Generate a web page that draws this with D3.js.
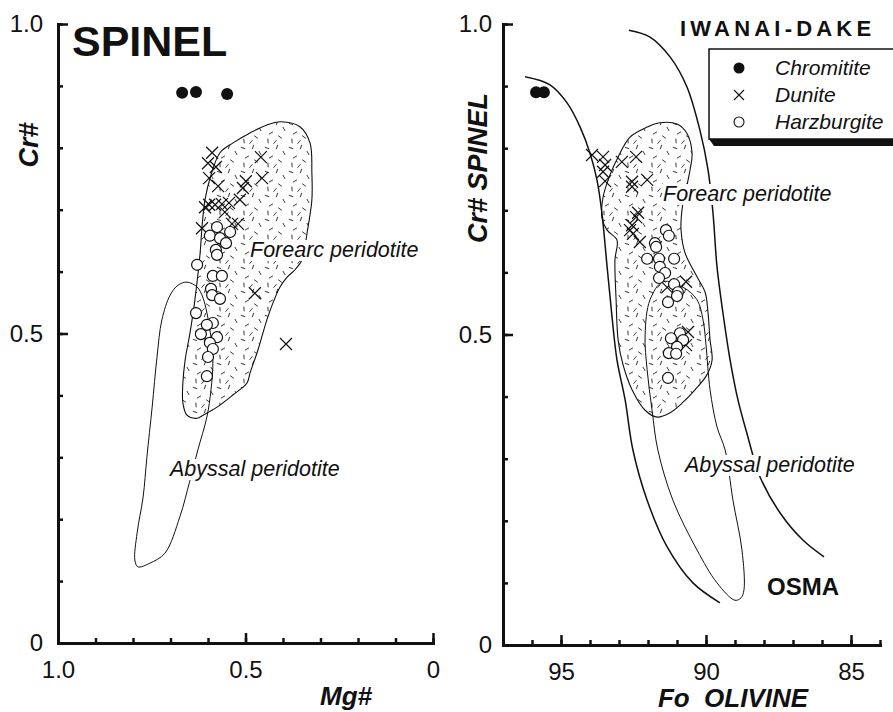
<!DOCTYPE html>
<html>
<head>
<meta charset="utf-8">
<script src="https://cdnjs.cloudflare.com/ajax/libs/d3/7.8.5/d3.min.js"></script>
<style>
  body { margin: 0; background: #fff; }
  svg { display: block; font-family: "Liberation Sans", Arial, Helvetica, sans-serif; }
  .ax path, .ax line { stroke: #111; }
  .ax text { fill: #111; }
</style>
</head>
<body>
<script>
// ---- left panel: Cr# vs Mg# of spinel ----
const chromL = [[0.669, 0.889], [0.632, 0.890], [0.549, 0.887]];
const duniteL = [[0.589, 0.792], [0.600, 0.775], [0.579, 0.769], [0.597, 0.751], [0.573, 0.738],
  [0.459, 0.785], [0.456, 0.751], [0.499, 0.746], [0.507, 0.735], [0.515, 0.716],
  [0.597, 0.708], [0.581, 0.708], [0.563, 0.709], [0.544, 0.711], [0.555, 0.696],
  [0.616, 0.670], [0.536, 0.677], [0.520, 0.677], [0.475, 0.565], [0.392, 0.483], [0.608, 0.704]];
const harzL = [[0.576, 0.672], [0.595, 0.658], [0.541, 0.664], [0.568, 0.654], [0.552, 0.646],
  [0.579, 0.635], [0.576, 0.627], [0.629, 0.611], [0.587, 0.593], [0.563, 0.593],
  [0.592, 0.572], [0.589, 0.562], [0.568, 0.556], [0.632, 0.533], [0.587, 0.517],
  [0.603, 0.514], [0.619, 0.499], [0.576, 0.494], [0.595, 0.485], [0.587, 0.475],
  [0.600, 0.462], [0.603, 0.431]];
const forearcL = [[0.405, 0.842], [0.355, 0.834], [0.328, 0.808], [0.323, 0.759], [0.323, 0.716],
  [0.336, 0.662], [0.349, 0.619], [0.368, 0.603], [0.389, 0.591], [0.408, 0.575],
  [0.427, 0.549], [0.443, 0.522], [0.467, 0.473], [0.488, 0.436], [0.496, 0.420],
  [0.533, 0.401], [0.576, 0.381], [0.613, 0.368], [0.629, 0.363], [0.656, 0.368],
  [0.667, 0.388], [0.667, 0.420], [0.661, 0.457], [0.648, 0.501], [0.635, 0.554],
  [0.621, 0.630], [0.616, 0.672], [0.608, 0.716], [0.592, 0.756], [0.568, 0.792],
  [0.533, 0.808], [0.488, 0.824], [0.443, 0.837]];
const abyssalL = [[0.656, 0.583], [0.629, 0.575], [0.613, 0.557], [0.595, 0.506], [0.587, 0.457],
  [0.592, 0.409], [0.603, 0.365], [0.627, 0.312], [0.648, 0.263], [0.675, 0.204],
  [0.715, 0.145], [0.755, 0.129], [0.787, 0.123], [0.795, 0.134], [0.789, 0.178],
  [0.773, 0.236], [0.763, 0.300], [0.749, 0.381], [0.736, 0.462], [0.723, 0.522],
  [0.701, 0.562], [0.680, 0.578]];

// ---- right panel: Cr# spinel vs Fo olivine ----
const chromR = [[95.86, 0.890], [95.59, 0.890]];
const duniteR = [[93.93, 0.789], [93.55, 0.786], [93.48, 0.773], [93.55, 0.762], [93.48, 0.747],
  [92.90, 0.778], [92.41, 0.786], [92.55, 0.746], [92.55, 0.738], [92.03, 0.749],
  [92.34, 0.696], [92.41, 0.689], [92.55, 0.676], [92.62, 0.668], [92.52, 0.662],
  [92.28, 0.649], [91.34, 0.576], [90.69, 0.585], [90.62, 0.504], [90.69, 0.483]];
const harzR = [[91.38, 0.668], [91.28, 0.659], [91.76, 0.647], [91.72, 0.641], [92.03, 0.622],
  [91.62, 0.622], [91.10, 0.622], [91.59, 0.609], [91.41, 0.599], [91.62, 0.591],
  [91.10, 0.581], [90.97, 0.568], [91.00, 0.562], [91.31, 0.552], [90.90, 0.502],
  [91.21, 0.494], [90.79, 0.491], [91.00, 0.480], [91.28, 0.470], [91.03, 0.469], [91.31, 0.430]];
const forearcR = [[92.03, 0.834], [91.59, 0.841], [91.00, 0.839], [90.66, 0.824], [90.48, 0.792],
  [90.55, 0.765], [90.69, 0.733], [90.83, 0.700], [90.86, 0.668], [90.72, 0.631],
  [90.31, 0.593], [90.03, 0.568], [89.93, 0.535], [89.86, 0.491], [89.79, 0.459],
  [89.97, 0.435], [90.38, 0.411], [90.79, 0.391], [91.24, 0.374], [91.69, 0.367],
  [92.10, 0.378], [92.55, 0.411], [92.86, 0.451], [93.03, 0.491], [93.10, 0.556],
  [93.14, 0.620], [93.07, 0.652], [93.41, 0.668], [93.59, 0.689], [93.55, 0.721],
  [93.31, 0.757], [93.03, 0.786], [92.62, 0.818]];
const abyssalR = [[91.48, 0.585], [90.79, 0.576], [90.31, 0.556], [90.10, 0.523], [90.00, 0.483],
  [89.86, 0.411], [89.62, 0.351], [89.34, 0.314], [89.07, 0.233], [88.76, 0.153],
  [88.69, 0.089], [88.79, 0.076], [89.00, 0.072], [89.62, 0.100], [90.31, 0.153],
  [91.14, 0.233], [91.66, 0.314], [91.86, 0.378], [92.03, 0.443], [92.10, 0.499], [91.93, 0.556]];
const osmaLow = [[96.24, 0.915], [95.38, 0.902], [94.79, 0.873], [94.34, 0.834], [94.00, 0.792],
  [93.76, 0.749], [93.59, 0.696], [93.41, 0.609], [93.24, 0.528], [93.07, 0.459],
  [92.79, 0.395], [92.52, 0.314], [92.03, 0.233], [91.34, 0.158], [90.45, 0.100], [89.52, 0.068]];
const osmaHigh = [[92.66, 0.990], [91.93, 0.979], [91.24, 0.947], [90.66, 0.899], [90.21, 0.829],
  [89.93, 0.765], [89.76, 0.696], [89.62, 0.609], [89.38, 0.523], [89.17, 0.459],
  [88.90, 0.395], [88.59, 0.341], [88.14, 0.271], [87.45, 0.213], [86.66, 0.169], [85.93, 0.142]];

const crTicks = [0, 0.5, 1];
const crMinor = d3.range(0, 1.01, 0.1);
const mgTicks = [1, 0.5, 0];
const mgMinor = d3.range(0, 1.01, 0.1);
const foTicks = [95, 90, 85];
const foMinor = d3.range(84, 97.5, 1);
const legendItems = ["Chromitite", "Dunite", "Harzburgite"];

const W = 893, H = 712;
const svg = d3.select("body").append("svg").attr("width", W).attr("height", H);
svg.append("rect").attr("width", W).attr("height", H).attr("fill", "#fff");

// stipple texture for forearc fields
const defs = svg.append("defs");
const pat = defs.append("pattern").attr("id", "stip")
  .attr("patternUnits", "userSpaceOnUse").attr("width", 24).attr("height", 24);
[[3, 4, 20], [13, 3, 110], [20, 9, 60], [7, 13, 150], [16, 17, 35], [4, 21, 85], [11, 22, 130]]
  .forEach(([x, y, a]) => {
    const r = a * Math.PI / 180, l = 2.3;
    pat.append("line")
      .attr("x1", x - l * Math.cos(r)).attr("y1", y - l * Math.sin(r))
      .attr("x2", x + l * Math.cos(r)).attr("y2", y + l * Math.sin(r))
      .attr("stroke", "#222").attr("stroke-width", 0.9);
  });

const xL = d3.scaleLinear().domain([1, 0]).range([58, 433]);
const yL = d3.scaleLinear().domain([0, 1]).range([643, 24]);
const xR = d3.scaleLinear().domain([97, 84]).range([503, 880]);
const yR = d3.scaleLinear().domain([0, 1]).range([645, 24]);

const fmtFrac = d => d === 0 ? "0" : d3.format(".1f")(d);
const fmtInt = d => String(d);

function axes(x, y, xMaj, xMin, xFmt, yPad) {
  const x0 = x.range()[0], y0 = y.range()[0];
  const style = g => {
    g.attr("font-size", 24).attr("font-family", null);
    g.select(".domain").attr("stroke-width", 3).attr("stroke-linecap", "square");
    g.selectAll("line").attr("stroke-width", 2.5);
  };
  svg.append("g").attr("class", "ax").attr("transform", `translate(${x0},0)`)
    .call(d3.axisLeft(y).tickValues(crMinor).tickSize(-5).tickSizeOuter(0).tickFormat(""))
    .call(g => g.select(".domain").remove())
    .selectAll("line").attr("stroke-width", 2.5);
  svg.append("g").attr("class", "ax").attr("transform", `translate(${x0},0)`)
    .call(d3.axisLeft(y).tickValues(crTicks).tickSize(-10).tickSizeOuter(0).tickPadding(yPad).tickFormat(fmtFrac))
    .call(style);
  svg.append("g").attr("class", "ax").attr("transform", `translate(0,${y0})`)
    .call(d3.axisBottom(x).tickValues(xMin).tickSize(-5).tickSizeOuter(0).tickFormat(""))
    .call(g => g.select(".domain").remove())
    .selectAll("line").attr("stroke-width", 2.5);
  svg.append("g").attr("class", "ax").attr("transform", `translate(0,${y0})`)
    .call(d3.axisBottom(x).tickValues(xMaj).tickSize(-10).tickSizeOuter(0).tickPadding(18).tickFormat(xFmt))
    .call(style);
}

function panel(x, y, forearc, abyssal) {
  const lineC = d3.line().x(d => x(d[0])).y(d => y(d[1])).curve(d3.curveCatmullRomClosed.alpha(0.5));
  svg.append("path").attr("d", lineC(forearc)).attr("fill", "url(#stip)").attr("stroke", "none");
  svg.append("path").attr("d", lineC(abyssal)).attr("fill", "none").attr("stroke", "#111").attr("stroke-width", 1);
  svg.append("path").attr("d", lineC(forearc)).attr("fill", "none").attr("stroke", "#111").attr("stroke-width", 1.1);
}

function label(txt, px, py, opts = {}) {
  const g = svg.append("g");
  const t = g.append("text").attr("x", px).attr("y", py).text(txt)
    .attr("font-size", opts.size || 21.5).attr("font-style", opts.style || "italic")
    .attr("font-weight", opts.weight || "normal").attr("fill", "#111");
  if (opts.bg) {
    const b = t.node().getBBox();
    g.insert("rect", "text").attr("x", b.x - 1).attr("y", b.y + 2).attr("width", b.width + 2)
      .attr("height", b.height - 3).attr("fill", "#fff");
  }
  return t;
}

function points(x, y, chrom, dun, harz) {
  svg.append("g").selectAll("path").data(dun).join("path")
    .attr("transform", d => `translate(${x(d[0])},${y(d[1])})`)
    .attr("d", "M-6,-6L6,6M-6,6L6,-6").attr("stroke", "#111").attr("stroke-width", 1.2).attr("fill", "none");
  svg.append("g").selectAll("circle").data(harz).join("circle")
    .attr("cx", d => x(d[0])).attr("cy", d => y(d[1])).attr("r", 5.5)
    .attr("fill", "#fff").attr("stroke", "#111").attr("stroke-width", 1.2);
  svg.append("g").selectAll("circle").data(chrom).join("circle")
    .attr("cx", d => x(d[0])).attr("cy", d => y(d[1])).attr("r", 6).attr("fill", "#111");
}

// left panel
panel(xL, yL, forearcL, abyssalL);
label("Forearc peridotite", 250, 257, { bg: true });
label("Abyssal peridotite", 170, 476, { bg: true });
points(xL, yL, chromL, duniteL, harzL);
axes(xL, yL, mgTicks, mgMinor, fmtFrac, 15);
label("SPINEL", 72, 56, { size: 43, style: "normal", weight: "bold" });
label("Mg#", 346, 705, { size: 26, weight: "bold" }).attr("text-anchor", "middle");
label("Cr#", 0, 0, { size: 27, weight: "bold" }).attr("text-anchor", "middle")
  .attr("transform", "translate(38,145) rotate(-90)");

// right panel
panel(xR, yR, forearcR, abyssalR);
const lineO = d3.line().x(d => xR(d[0])).y(d => yR(d[1])).curve(d3.curveCatmullRom.alpha(0.5));
[osmaLow, osmaHigh].forEach(c => svg.append("path").attr("d", lineO(c))
  .attr("fill", "none").attr("stroke", "#111").attr("stroke-width", 1.5));
label("Forearc peridotite", 663, 201, { bg: true });
label("Abyssal peridotite", 685, 472, { bg: true });
points(xR, yR, chromR, duniteR, harzR);
axes(xR, yR, foTicks, foMinor, fmtInt, 11);
label("OSMA", 767, 595, { size: 24, style: "normal", weight: "bold" });
label("IWANAI-DAKE", 680, 36, { size: 22, style: "normal", weight: "bold" }).attr("letter-spacing", 4.2);
label("Fo\u00a0\u00a0OLIVINE", 733, 707, { size: 26, weight: "bold" }).attr("text-anchor", "middle");
label("Cr# SPINEL", 0, 0, { size: 27, weight: "bold" }).attr("text-anchor", "middle")
  .attr("transform", "translate(487,168) rotate(-90)");

// legend
const lg = svg.append("g");
lg.append("polygon").attr("points", "709,139 714,146 900,146 900,139").attr("fill", "#111");
lg.append("rect").attr("x", 709).attr("y", 49).attr("width", 200).attr("height", 90)
  .attr("fill", "#fff").attr("stroke", "#111").attr("stroke-width", 1.5);
legendItems.forEach((name, i) => {
  const cy = 68 + i * 27;
  if (i === 0) lg.append("circle").attr("cx", 739).attr("cy", cy).attr("r", 5.5).attr("fill", "#111");
  if (i === 1) lg.append("path").attr("transform", `translate(739,${cy})`)
    .attr("d", "M-5,-5L5,5M-5,5L5,-5").attr("stroke", "#111").attr("stroke-width", 1.1);
  if (i === 2) lg.append("circle").attr("cx", 739).attr("cy", cy).attr("r", 5)
    .attr("fill", "#fff").attr("stroke", "#111").attr("stroke-width", 1.1);
  lg.append("text").attr("x", 775).attr("y", cy + 7).text(name)
    .attr("font-size", 21).attr("font-style", "italic").attr("fill", "#111");
});
</script>
</body>
</html>
